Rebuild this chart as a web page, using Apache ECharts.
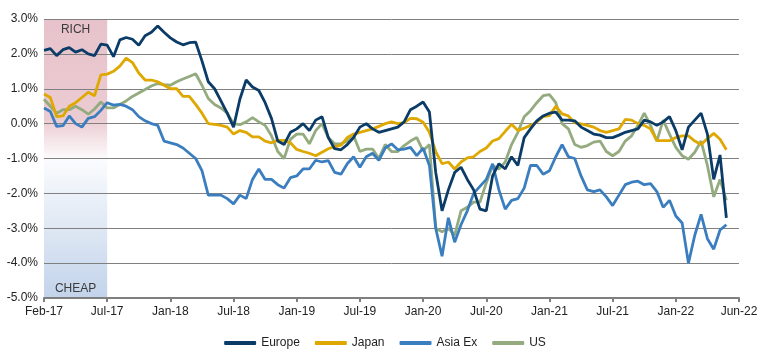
<!DOCTYPE html>
<html><head><meta charset="utf-8">
<script src="https://cdn.jsdelivr.net/npm/echarts@6/dist/echarts.min.js"></script>
<style>html,body{margin:0;padding:0;background:#fff}#c{width:770px;height:358px}</style>
</head><body><div id="c"></div>
<script>
// x tick labels (one every 10 observations)
const tickLabels = ['Feb-17','Jul-17','Jan-18','Jul-18','Jan-19','Jul-19','Jan-20','Jul-20','Jan-21','Jul-21','Jan-22','Jun-22'];
const pointsPerTick = 10;

const europe = [2.10,2.15,1.95,2.12,2.18,2.05,2.12,2.00,1.95,2.28,2.25,1.92,2.40,2.47,2.42,2.25,2.52,2.62,2.80,2.62,
2.46,2.34,2.26,2.32,2.34,1.80,1.20,1.00,0.65,0.30,-0.10,0.70,1.25,1.05,0.95,0.60,0.15,-0.50,-0.60,-0.25,
-0.15,0.00,-0.20,0.10,0.20,-0.40,-0.72,-0.75,-0.60,-0.40,-0.10,0.00,-0.15,-0.25,-0.20,-0.15,-0.10,0.05,0.40,0.50,
0.62,0.33,-1.40,-2.50,-1.90,-1.40,-1.25,-1.60,-1.90,-2.45,-2.50,-1.50,-1.15,-1.30,-0.95,-1.20,-0.40,-0.15,0.08,0.22,
0.30,0.33,0.10,0.10,0.08,-0.10,-0.20,-0.30,-0.33,-0.40,-0.40,-0.33,-0.25,-0.20,-0.15,0.10,0.05,-0.05,0.05,0.20,
-0.20,-0.75,-0.10,0.10,0.30,-0.30,-1.60,-0.90,-2.70];

const japan = [0.85,0.75,0.20,0.22,0.50,0.60,0.75,0.90,0.80,1.40,1.42,1.50,1.65,1.88,1.75,1.45,1.25,1.25,1.20,1.10,
1.00,1.00,0.78,0.78,0.55,0.30,0.00,-0.02,-0.05,-0.10,-0.30,-0.20,-0.25,-0.38,-0.38,-0.50,-0.55,-0.48,-0.48,-0.55,
-0.74,-0.80,-0.85,-0.92,-0.82,-0.72,-0.66,-0.62,-0.40,-0.30,-0.25,-0.20,-0.15,-0.08,0.00,0.05,0.00,0.03,0.15,0.14,
0.04,-0.25,-0.80,-1.15,-1.10,-1.30,-1.10,-0.98,-0.95,-0.80,-0.70,-0.50,-0.43,-0.22,-0.02,-0.20,-0.13,-0.05,0.05,0.20,
0.23,0.50,0.28,0.22,0.02,-0.01,-0.05,-0.10,-0.20,-0.25,-0.20,-0.15,0.12,0.10,0.00,-0.05,-0.15,-0.49,-0.49,-0.49,
-0.40,-0.35,-0.35,-0.50,-0.60,-0.43,-0.28,-0.45,-0.75];

const asiaEx = [0.45,0.35,-0.08,-0.06,0.22,0.00,-0.10,0.15,0.20,0.38,0.60,0.53,0.55,0.50,0.40,0.20,0.08,0.00,-0.05,-0.50,
-0.55,-0.60,-0.70,-0.85,-1.00,-1.35,-2.05,-2.05,-2.05,-2.15,-2.30,-2.05,-2.15,-1.60,-1.30,-1.60,-1.60,-1.75,-1.85,-1.55,
-1.50,-1.30,-1.30,-1.05,-1.10,-1.06,-1.40,-1.45,-1.15,-0.95,-1.25,-0.95,-0.85,-1.05,-0.70,-0.58,-0.75,-0.73,-0.68,-0.92,
-0.70,-1.20,-3.00,-3.80,-2.70,-3.40,-2.90,-2.50,-2.00,-1.80,-1.60,-1.15,-1.90,-2.45,-2.20,-2.15,-1.85,-1.20,-1.20,-1.45,
-1.35,-0.95,-0.60,-0.95,-1.00,-1.50,-1.90,-1.95,-1.90,-2.10,-2.35,-2.05,-1.75,-1.68,-1.65,-1.75,-1.72,-1.95,-2.40,-2.20,
-2.65,-2.85,-4.00,-3.20,-2.60,-3.30,-3.60,-3.05,-2.90];

const us = [0.70,0.50,0.30,0.40,0.40,0.50,0.40,0.27,0.42,0.62,0.45,0.45,0.55,0.65,0.78,0.88,0.98,1.08,1.15,1.12,
1.10,1.20,1.28,1.35,1.43,1.10,0.72,0.55,0.45,0.30,0.00,-0.03,0.05,0.17,0.05,-0.05,-0.35,-0.80,-1.00,-0.45,
-0.30,-0.30,-0.58,-0.20,0.00,-0.40,-0.58,-0.58,-0.50,-0.35,-0.80,-0.73,-0.73,-1.00,-0.60,-0.80,-0.80,-0.63,-0.50,-0.40,
-0.78,-0.60,-3.00,-3.10,-3.00,-3.20,-2.50,-2.40,-2.25,-2.25,-1.70,-1.20,-1.30,-1.10,-0.60,-0.25,0.20,0.37,0.60,0.80,
0.83,0.60,0.00,-0.15,-0.60,-0.68,-0.63,-0.53,-0.50,-0.80,-0.92,-0.80,-0.50,-0.35,-0.05,0.30,-0.05,-0.50,0.10,-0.30,
-0.68,-0.92,-1.02,-0.82,-0.50,-1.20,-2.10,-1.60,-2.20];

// shaded "rich / cheap" zone: [fromIndex, toIndex, topValue, bottomValue]
const bandLabels = ['RICH', 'CHEAP'];
const bandRows = [[0, 10, 3, -1], [0, 10, -1, -5]];

const font = 'Liberation Sans, Arial, sans-serif';
const toXY = arr => arr.map((v, i) => [i, v]);
const xMax = (tickLabels.length - 1) * pointsPerTick;

const bandFills = [
  new echarts.graphic.LinearGradient(0, 0, 0, 1, [
    {offset: 0, color: '#e7c2ca'}, {offset: 0.72, color: '#ebcbd2'}, {offset: 1, color: '#fdfbfc'}]),
  new echarts.graphic.LinearGradient(0, 0, 0, 1, [
    {offset: 0, color: '#fbfcfe'}, {offset: 1, color: '#c2d3ea'}])
];

const chart = echarts.init(document.getElementById('c'), null, {renderer: 'canvas'});
chart.setOption({
  animation: false,
  backgroundColor: '#ffffff',
  textStyle: {fontFamily: font},
  grid: {left: 44, right: 31, top: 19, bottom: 60, containLabel: false},
  legend: {
    data: ['Europe', 'Japan', 'Asia Ex', 'US'],
    left: 'center', top: 332,
    icon: 'roundRect', itemWidth: 32, itemHeight: 4, itemGap: 15,
    textStyle: {fontSize: 12, color: '#222', fontFamily: font}
  },
  xAxis: [{
    type: 'value', min: 0, max: xMax, interval: pointsPerTick,
    axisLine: {show: false}, axisTick: {show: false}, splitLine: {show: false},
    axisLabel: {formatter: v => tickLabels[Math.round(v / pointsPerTick)], margin: 8,
      color: '#222', fontSize: 12, fontFamily: font, showMinLabel: true, showMaxLabel: true}
  }, {
    type: 'value', min: 0, max: xMax, interval: pointsPerTick, position: 'bottom',
    axisLine: {show: true, onZero: true, lineStyle: {color: '#7f7f7f', width: 2}},
    axisTick: {show: true, length: 4, lineStyle: {color: '#7f7f7f', width: 2}},
    axisLabel: {show: false}, splitLine: {show: false}
  }],
  yAxis: {
    type: 'value', min: -5, max: 3, interval: 1,
    axisLine: {show: false}, axisTick: {show: false},
    splitLine: {show: true, lineStyle: {color: '#808080', width: 1}},
    axisLabel: {formatter: v => v.toFixed(1) + '%', color: '#222', fontSize: 12, margin: 6, fontFamily: font}
  },
  series: [
    {
      name: 'band', type: 'custom', z: -1, silent: true, data: bandRows,
      renderItem: (params, api) => {
        const p0 = api.coord([api.value(0), api.value(2)]);
        const p1 = api.coord([api.value(1), api.value(3)]);
        const isTop = params.dataIndex === 0;
        return {
          type: 'group',
          children: [
            {type: 'rect', shape: {x: p0[0], y: p0[1], width: p1[0] - p0[0], height: p1[1] - p0[1]},
             style: {fill: bandFills[params.dataIndex]}},
            {type: 'text', x: (p0[0] + p1[0]) / 2, y: isTop ? p0[1] + 5 : p1[1] - 3,
             style: {text: bandLabels[params.dataIndex], fill: '#3b3b3b', fontSize: 12, fontFamily: font,
               align: 'center', verticalAlign: isTop ? 'top' : 'bottom'}}
          ]
        };
      }
    },
    {name: 'US', type: 'line', data: toXY(us), showSymbol: false, symbol: 'none',
      lineStyle: {color: '#93ab7e', width: 2.8}, itemStyle: {color: '#93ab7e'}},
    {name: 'Japan', type: 'line', data: toXY(japan), showSymbol: false, symbol: 'none',
      lineStyle: {color: '#dfa800', width: 2.8}, itemStyle: {color: '#dfa800'}},
    {name: 'Asia Ex', type: 'line', data: toXY(asiaEx), showSymbol: false, symbol: 'none',
      lineStyle: {color: '#3b7ebf', width: 2.8}, itemStyle: {color: '#3b7ebf'}},
    {name: 'Europe', type: 'line', data: toXY(europe), showSymbol: false, symbol: 'none',
      lineStyle: {color: '#0b3c68', width: 2.8}, itemStyle: {color: '#0b3c68'}}
  ]
});
</script></body></html>
